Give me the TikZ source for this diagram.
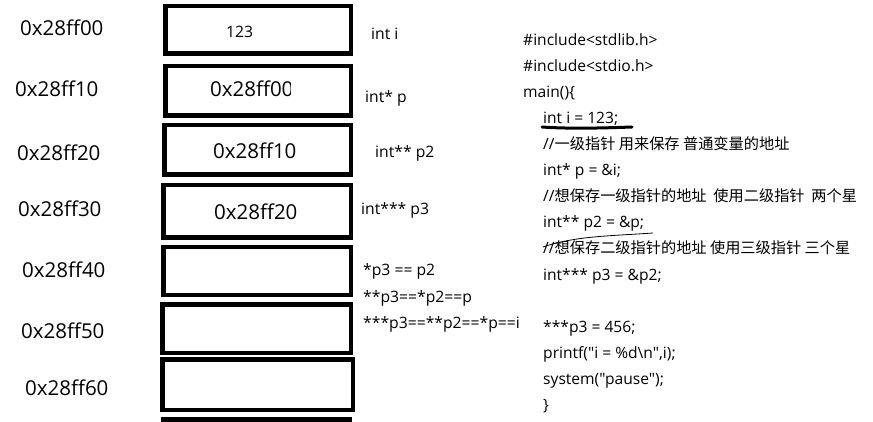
\documentclass[tikz,border=0pt]{standalone}
\usepackage{fontspec}
\setmainfont{Open Sans}
\newfontfamily\latin{Open Sans}
\newfontfamily\cjk{Noto Sans CJK SC}
\newcommand\zhtext[1]{{\cjk\fontsize{15.2}{16}\selectfont #1}}
\begin{document}
\begin{tikzpicture}[x=1pt,y=-1pt,
  cell/.style={draw, line width=4.5pt, inner sep=0pt},
  addr/.style={font=\latin\fontsize{20.5}{22}\selectfont, anchor=base west, inner sep=0pt},
  val/.style={font=\latin\fontsize{20.5}{22}\selectfont, anchor=base west, inner sep=0pt},
  lab/.style={font=\latin\fontsize{15.7}{16}\selectfont, anchor=base west, inner sep=0pt},
  code/.style={font=\latin\fontsize{15.6}{16}\selectfont, anchor=base west, inner sep=0pt}]
\useasboundingbox (0,0) rectangle (873,422);
\fill[white] (0,0) rectangle (873,422);
% memory cells
\node[cell, minimum width=185.5pt, minimum height=47.5pt] (c1) at (258,30) {};
\node[cell, minimum width=185.5pt, minimum height=49.5pt] (c2) at (258,91) {};
\node[cell, minimum width=186.5pt, minimum height=49.5pt] (c3) at (257.5,150) {};
\node[cell, minimum width=187.5pt, minimum height=52.5pt] (c4) at (257,211.5) {};
\node[cell, minimum width=187.5pt, minimum height=47.5pt] (c5) at (257,271) {};
\node[cell, minimum width=188.5pt, minimum height=48.5pt] (c6) at (256.5,328.5) {};
\node[cell, minimum width=190.5pt, minimum height=50.5pt] (c7) at (257.5,384.5) {};
\node[cell, minimum width=186.5pt, minimum height=40pt] (c8) at (256.5,439.5) {};
% addresses
\node[addr] (a1) at (20,36) {0x28ff00};
\node[addr] (a2) at (15,97) {0x28ff10};
\node[addr] (a3) at (17,160.5) {0x28ff20};
\node[addr] (a4) at (18,217) {0x28ff30};
\node[addr] (a5) at (22,277) {0x28ff40};
\node[addr] (a6) at (21,338) {0x28ff50};
\node[addr] (a7) at (25,395) {0x28ff60};
% values
\node[lab] (v1) at (226,38) {123};
\begin{scope}
\clip (200,60) rectangle (290,120);
\node[val] (v2) at (210,97) {0x28ff00};
\end{scope}
\node[val] (v3) at (213,159) {0x28ff10};
\node[val] (v4) at (214,220) {0x28ff20};
% labels
\node[lab] (l1) at (371,40) {int i};
\node[lab] (l2) at (365,103) {int* p};
\node[lab] (l3) at (375,158) {int** p2};
\node[lab] (l4) at (361,215) {int*** p3};
\node[lab] (l5) at (363,276) {*p3 == p2};
\node[lab] (l6) at (363,302) {**p3==*p2==p};
\node[lab] (l7) at (363,328) {***p3==**p2==*p==i};
% code
\node[code] (k1) at (523,46) {\#include<stdlib.h>};
\node[code] (k2) at (523,72) {\#include<stdio.h>};
\node[code] (k3) at (523,98) {main()\{};
\node[code] (k4) at (543,124) {int i = 123;};
\node[code] (k5) at (543,150) {//\zhtext{一级指针 用来保存 普通变量的地址}};
\node[code] (k6) at (543,176) {int* p = \&i;};
\node[code] (k7) at (543,202) {//\zhtext{想保存一级指针的地址\ \ 使用二级指针\ \ 两个星}};
\node[code] (k8) at (543,228) {int** p2 = \&p;};
\node[code] (k9) at (543,254) {//\zhtext{想保存二级指针的地址 使用三级指针 三个星}};
\node[code] (k10) at (543,280) {int*** p3 = \&p2;};
\node[code] (k11) at (543,332) {***p3 = 456;};
\node[code] (k12) at (543,358) {printf("i = \%d\textbackslash n",i);};
\node[code] (k13) at (543,384) {system("pause");};
\node[code] (k14) at (543,410) {\}};
% hand-drawn marks
\coordinate (u1) at (542,127);
\coordinate (u2) at (632,127);
\draw[line width=3pt, line cap=round] (u1) .. controls (570,129) and (605,128) .. (u2);
\coordinate (w1) at (543,247);
\coordinate (w2) at (653,233);
\draw[line width=0.8pt] (w1) .. controls (575,236) and (610,236) .. (w2);
\end{tikzpicture}
\end{document}
